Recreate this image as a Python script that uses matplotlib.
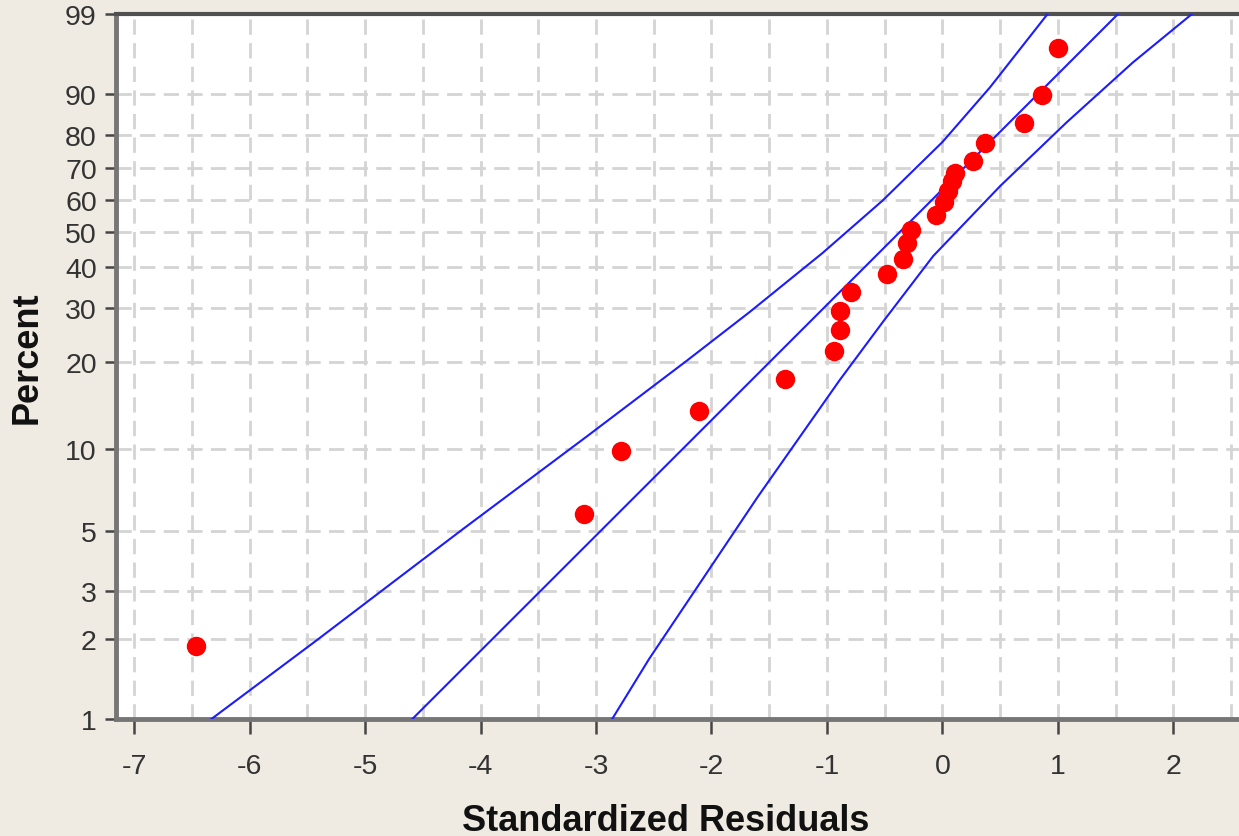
import numpy as np
import matplotlib
matplotlib.use('Agg')
import matplotlib.pyplot as plt
from matplotlib.ticker import FixedLocator, MultipleLocator

plt.rcParams['font.family'] = ['Liberation Sans', 'DejaVu Sans']

# 残差点 (x) 和对应的百分位 (y)
resid = [-6.46, -3.10, -2.78, -2.11, -1.36, -0.94, -0.89, -0.89, -0.79, -0.48,
         -0.34, -0.31, -0.27, -0.06, 0.01, 0.05, 0.08, 0.11, 0.26, 0.37,
         0.71, 0.86, 1.00]
percent = [1.88, 5.80, 9.83, 13.6, 17.6, 21.9, 25.5, 29.5, 33.6, 38.2,
           42.2, 46.6, 50.6, 55.2, 59.3, 62.8, 66.0, 68.5, 72.3, 77.7,
           83.2, 89.7, 96.75]

# 拟合线
fit_x = [-4.59, 1.52]
fit_pct = [1, 99]

# 置信区间 (上/下)
upper_x = [-6.33, -5.42, -4.70, -4.15, -3.08, -2.21, -1.67, -1.04, -0.52, 0.00, 0.41, 0.91]
upper_pct = [1.0, 1.97, 3.39, 5.11, 11.05, 20.3, 29.2, 43.8, 59.7, 78.0, 91.2, 99.0]
lower_x = [-2.86, -2.54, -1.60, -1.26, -0.89, -0.51, -0.08, 0.50, 1.075, 1.65, 2.16]
lower_pct = [1.0, 1.68, 6.69, 10.65, 17.4, 27.35, 43.0, 64.4, 83.4, 95.15, 99.0]

y_ticks = [1, 2, 3, 5, 10, 20, 30, 40, 50, 60, 70, 80, 90, 99]
x_ticks = list(range(-7, 3))


# 最小极值分布概率刻度
def sev(p):
    q = np.clip(np.asarray(p, dtype=float) / 100.0, 1e-9, 1 - 1e-9)
    return np.log(-np.log(1 - q))


def sev_inv(z):
    z = np.clip(np.asarray(z, dtype=float), -30, 4)
    return 100.0 * (1 - np.exp(-np.exp(z)))


bg = '#efebe2'
W, H = 1239, 837
fig = plt.figure(figsize=(W / 100, H / 100), dpi=100, facecolor=bg)
ax = fig.add_axes([116 / W, 117 / H, 1127 / W, 705 / H])
ax.set_facecolor('white')

ax.set_yscale('function', functions=(sev, sev_inv))
ax.set_ylim(1, 99)
ax.set_xlim(-7.156, 2.602)

ax.yaxis.set_major_locator(FixedLocator(y_ticks))
ax.yaxis.set_minor_locator(FixedLocator([]))
ax.set_yticklabels([str(t) for t in y_ticks])
ax.xaxis.set_major_locator(FixedLocator(x_ticks))
ax.xaxis.set_minor_locator(MultipleLocator(0.5))
ax.set_xticklabels([str(t) for t in x_ticks])

grid_style = dict(color='#d4d4d4', linewidth=2.0, linestyle=(0, (5.5, 3)))
ax.grid(True, which='both', axis='x', **grid_style)
ax.grid(True, which='major', axis='y', **grid_style)
ax.set_axisbelow(True)

ax.plot(fit_x, fit_pct, color='#1c1cff', lw=1.5, zorder=3)
ax.plot(upper_x, upper_pct, color='#1c1cff', lw=1.5, zorder=3)
ax.plot(lower_x, lower_pct, color='#1c1cff', lw=1.5, zorder=3)
ax.plot(resid, percent, 'o', color='#ff0000', ms=14, mec='none', zorder=4)

for side in ['left', 'bottom']:
    ax.spines[side].set_color('#767676')
    ax.spines[side].set_linewidth(3.5)
ax.spines['top'].set_color('#505050')
ax.spines['top'].set_linewidth(3.0)
ax.spines['right'].set_visible(False)

ax.tick_params(axis='x', which='major', direction='out', length=10.5, width=1.8,
               color='#454545', labelsize=20.5, labelcolor='#333333', pad=14)
ax.tick_params(axis='x', which='minor', length=0)
ax.tick_params(axis='y', which='major', direction='out', length=8, width=1.8,
               color='#454545', labelsize=20.5, labelcolor='#333333', pad=5.8)
ax.tick_params(axis='y', which='minor', length=0)

fig.text(666 / W, 1 - 831 / H, 'Standardized Residuals', ha='center', va='baseline',
         fontsize=26, fontweight='bold', color='#111111')
fig.text(27 / W, 1 - 358 / H, 'Percent', ha='center', va='center', rotation=90,
         fontsize=26, fontweight='bold', color='#111111')

fig.savefig('out.png', dpi=100, facecolor=bg)
